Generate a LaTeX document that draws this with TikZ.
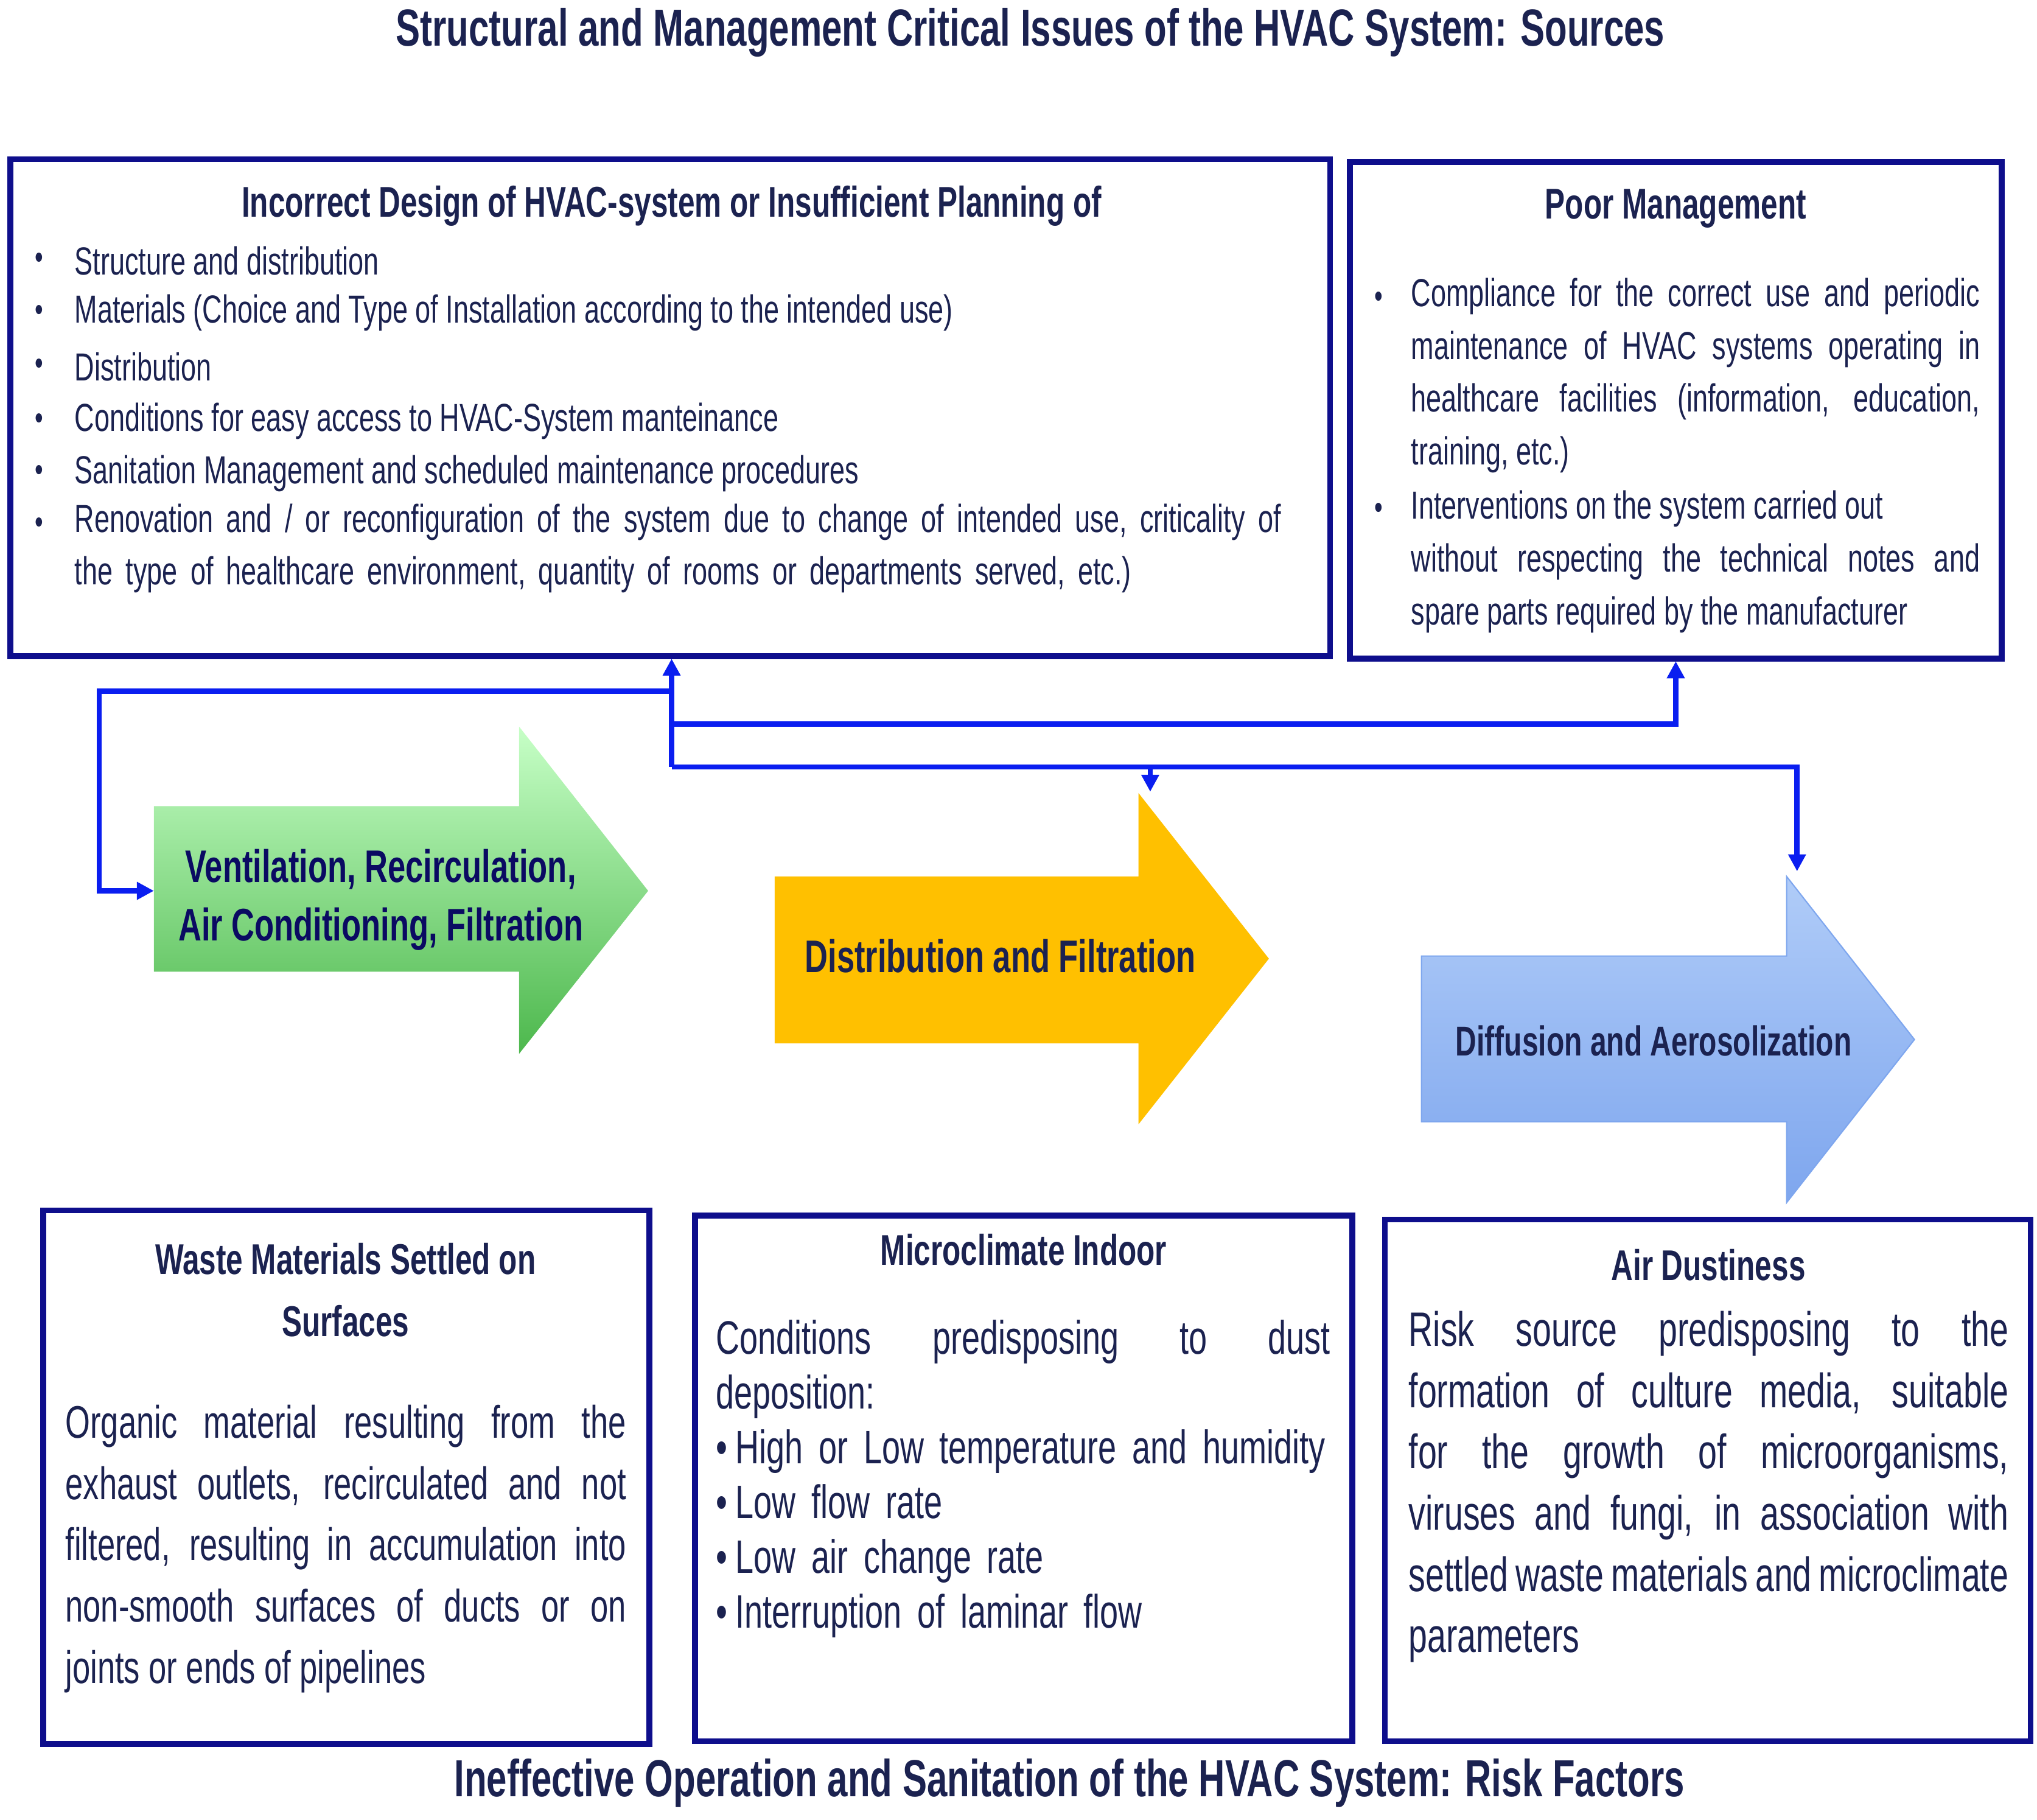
\documentclass[tikz,border=0pt]{standalone}
\usepackage{fontspec}
\setmainfont{Liberation Sans}[FakeStretch=0.7]
\usetikzlibrary{arrows.meta}
\definecolor{navy}{HTML}{0E0E8C}
\definecolor{txt}{HTML}{1B2250}
\definecolor{conn}{HTML}{0A1EF0}
\definecolor{orng}{HTML}{FFC000}
\definecolor{bltop}{HTML}{B0CCF8}
\definecolor{blbot}{HTML}{7EA6EE}
\hyphenpenalty=10000 \exhyphenpenalty=10000
\begin{document}
\begin{tikzpicture}[x=1pt,y=-1pt,
  box/.style={draw=navy,line width=4.5pt},
  ttl/.style={font=\bfseries\fontsize{40}{44}\selectfont,text=txt},
  btl/.style={font=\bfseries\fontsize{33}{48}\selectfont,text=txt,align=center},
  small/.style={font=\fontsize{30}{40.5}\selectfont,text=txt,inner sep=0pt,anchor=west},
  sj/.style={font=\fontsize{30}{40.5}\selectfont,text=txt,inner sep=0pt,anchor=north west,align=justify},
  bul/.style={font=\fontsize{26}{28}\selectfont,text=txt,inner sep=0pt},
  big/.style={font=\fontsize{35}{47}\selectfont,text=txt,inner sep=0pt,anchor=north west,align=justify},
  con/.style={draw=conn,line width=4pt},
  tip/.style={-{Triangle[length=13pt,width=13pt]}}]
\useasboundingbox (0,0) rectangle (1562,1395);
\node[ttl] (t1) at (790,25) {Structural and Management Critical Issues of the HVAC System: Sources};
\node[ttl] (t2) at (820,1367) {Ineffective Operation and Sanitation of the HVAC System: Risk Factors};
% top boxes
\draw[box] (8,122) rectangle (1020,503);
\coordinate (b1s) at (515,505);
\draw[box] (1035,124) rectangle (1535,505);
\coordinate (b2s) at (1285,507);
\node[btl] (h1) at (515,158) {Incorrect Design of HVAC-system or Insufficient Planning of};
\foreach \y in {200,240,281,323,363,403} \node[bul] at (30,\y) {•};
\node[small] (i1) at (57,200) {Structure and distribution};
\node[small] (i2) at (57,240) {Materials (Choice and Type of Installation according to the intended use)};
\node[small] (i3) at (57,281) {Distribution};
\node[small] (i4) at (57,323) {Conditions for easy access to HVAC-System manteinance};
\node[small] (i5) at (57,363) {Sanitation Management and scheduled maintenance procedures};
\node[sj,text width=950pt,align=left] (i6) at (57,386) {Renovation and / or reconfiguration of the system due to change of intended use, criticality of the type of healthcare environment, quantity of rooms or departments served, etc.)};
\node[btl] (h2) at (1285,160) {Poor Management};
\node[bul] at (1057,230) {•};
\node[bul] at (1057,392) {•};
\node[sj,text width=436pt] (p1) at (1082,213) {Compliance for the correct use and periodic maintenance of HVAC systems operating in healthcare facilities (information, education, training, etc.)};
\node[sj,text width=436pt] (p2) at (1082,376) {Interventions on the system carried out\\without respecting the technical notes and spare parts required by the manufacturer};
% arrows
\shade[top color=green!22!white,bottom color=green!60!black!70!white,draw=none]
 (118,618)--(398,618)--(398,557)--(497,683)--(398,808)--(398,745)--(118,745)--cycle;
\node[font=\bfseries\fontsize{35}{45}\selectfont,text=navy!70!black,align=center] (a1) at (292,690) {Ventilation, Recirculation,\\Air Conditioning, Filtration};
\fill[orng]
 (594,672)--(873,672)--(873,608)--(973,735)--(873,862)--(873,800)--(594,800)--cycle;
\node[font=\bfseries\fontsize{35}{40}\selectfont,text=txt] (a2) at (767,733) {Distribution and Filtration};
\shade[top color=bltop,bottom color=blbot,draw=blbot,line width=1pt]
 (1090,733)--(1370,733)--(1370,672)--(1468,797)--(1370,922)--(1370,860)--(1090,860)--cycle;
\node[font=\bfseries\fontsize{32}{36}\selectfont,text=txt] (a3) at (1268,798) {Diffusion and Aerosolization};
% connectors
\coordinate (j1) at (515,530); \coordinate (j2) at (515,555); \coordinate (j3) at (515,588);
\coordinate (jm) at (882,588);
\draw[con,tip] (j3) -- (b1s);
\draw[con,tip] (j1) -- (76,530) -- (76,683) -- (118,683);
\draw[con,tip] (j2) -- (1285,555) -- (b2s);
\draw[con,tip] (j3) -- (1378,588) -- (1378,668);
\draw[con,tip] (jm) -- (882,607);
% bottom boxes
\draw[box] (33,928) rectangle (498,1337);
\draw[box] (533,932) rectangle (1037,1335);
\draw[box] (1062,935) rectangle (1557,1335);
\node[btl] (h3) at (265,989) {Waste Materials Settled on\\Surfaces};
\node[big,text width=430pt] (l3) at (50,1077) {Organic material resulting from the exhaust outlets, recirculated and not filtered, resulting in accumulation into non-smooth surfaces of ducts or on joints or ends of pipelines};
\node[btl] (h4) at (785,958) {Microclimate Indoor};
\node[big,text width=471pt,font=\fontsize{36}{42}\selectfont,align=left] (l4) at (549,1012) {Conditions\hfill predisposing\hfill to\hfill dust\\deposition:\\
•\,High or Low temperature and humidity\\ •\,Low flow rate\\ •\,Low air change rate\\ •\,Interruption of laminar flow};
\node[btl] (h5) at (1310,970) {Air Dustiness};
\node[big,text width=460pt,font=\fontsize{37}{47}\selectfont] (l5) at (1080,1005) {Risk source predisposing to the formation of culture media, suitable for the growth of microorganisms, viruses and fungi, in association with settled waste materials and microclimate parameters};
\end{tikzpicture}
\end{document}
